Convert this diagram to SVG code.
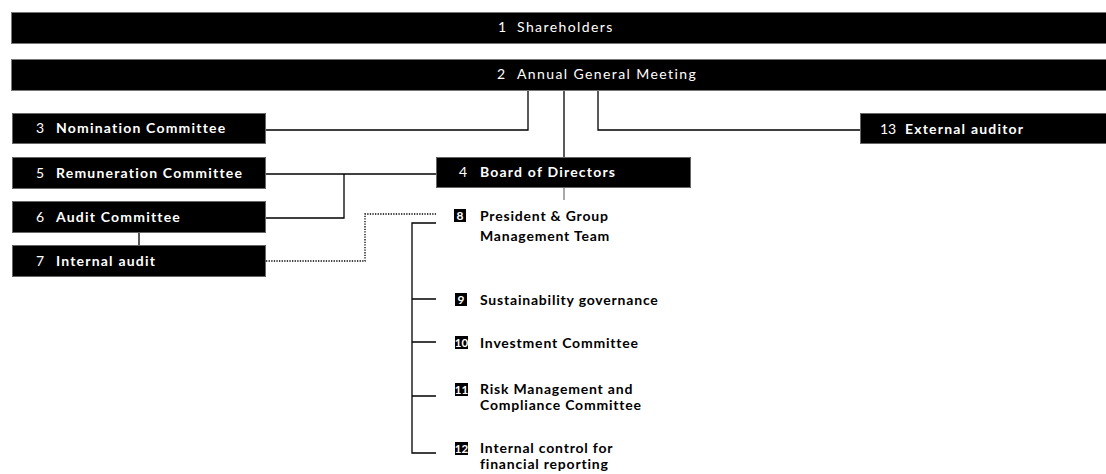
<svg xmlns="http://www.w3.org/2000/svg" width="1106" height="474" viewBox="0 0 1106 474">
<style>
.bar{fill:#000;stroke:#777;stroke-width:1}
.box{fill:#000;stroke:#666;stroke-width:1}
.tb{font-family:Lato,"Liberation Sans",sans-serif;font-size:14px;fill:#fff;letter-spacing:1.4px}
.tw{font-family:Lato,"Liberation Sans",sans-serif;font-size:14px;font-weight:700;fill:#fff;letter-spacing:1.2px}
.tn{font-family:Lato,"Liberation Sans",sans-serif;font-size:14px;fill:#fff}
.tk{font-family:Lato,"Liberation Sans",sans-serif;font-size:14px;font-weight:700;fill:#000;letter-spacing:0.8px}
.nb{fill:#000}
.nt{font-family:Lato,"Liberation Sans",sans-serif;font-size:12px;font-weight:700;fill:#fff;text-anchor:middle}
.ln{fill:none;stroke:#000;stroke-width:1.3}
.dt{fill:none;stroke:#000;stroke-width:1.3;stroke-dasharray:1.3 1.3}
</style>
<g id="connectors">
<path class="ln" d="M266 130H528V90"/>
<path class="ln" d="M564 90V158"/>
<path class="ln" d="M598 90V130H860"/>
<path class="ln" d="M266 174H436"/>
<path class="ln" d="M344 174V218H266"/>
<path class="ln" d="M139 232V246"/>
<path class="dt" d="M266 261H365V214H436"/>
<path class="ln" d="M564 188V200" style="stroke:#555;stroke-width:1"/>
<path class="ln" d="M436 223H412V453H436"/>
<path class="ln" d="M412 299H436M412 342H436M412 396H436"/>
</g>
<g id="n1">
<rect class="bar" x="11.5" y="12.5" width="1100" height="31"/>
<text class="tn" x="498" y="32">1</text>
<text class="tb" x="517" y="32">Shareholders</text>
</g>
<g id="n2">
<rect class="bar" x="11.5" y="59.5" width="1100" height="31"/>
<text class="tn" x="497" y="79">2</text>
<text class="tb" x="517" y="79">Annual General Meeting</text>
</g>
<g id="n3">
<rect class="box" x="12.5" y="113.5" width="253" height="30"/>
<text class="tn" x="36" y="133">3</text>
<text class="tw" x="56" y="133">Nomination Committee</text>
</g>
<g id="n5">
<rect class="box" x="12.5" y="157.5" width="253" height="31"/>
<text class="tn" x="36" y="178">5</text>
<text class="tw" x="56" y="178">Remuneration Committee</text>
</g>
<g id="n6">
<rect class="box" x="12.5" y="201.5" width="253" height="31"/>
<text class="tn" x="36" y="222">6</text>
<text class="tw" x="56" y="222">Audit Committee</text>
</g>
<g id="n7">
<rect class="box" x="12.5" y="245.5" width="253" height="31"/>
<text class="tn" x="36" y="266">7</text>
<text class="tw" x="56" y="266">Internal audit</text>
</g>
<g id="n4">
<rect class="box" x="436.5" y="157.5" width="254" height="30"/>
<text class="tn" x="459" y="177">4</text>
<text class="tw" x="480" y="177">Board of Directors</text>
</g>
<g id="n13">
<rect class="box" x="860.5" y="113.5" width="250" height="30"/>
<text class="tn" x="880" y="134">13</text>
<text class="tw" x="905" y="134">External auditor</text>
</g>
<g id="n8">
<rect class="nb" x="454" y="209" width="12" height="13"/>
<text class="nt" x="460" y="220">8</text>
<text class="tk" x="480" y="221">President &amp; Group</text>
<text class="tk" x="480" y="241">Management Team</text>
</g>
<g id="n9">
<rect class="nb" x="455" y="293" width="12" height="13"/>
<text class="nt" x="461" y="304">9</text>
<text class="tk" x="480" y="305">Sustainability governance</text>
</g>
<g id="n10">
<rect class="nb" x="455" y="336" width="13" height="13"/>
<text class="nt" x="461.5" y="347" style="font-size:11.5px">10</text>
<text class="tk" x="480" y="348">Investment Committee</text>
</g>
<g id="n11">
<rect class="nb" x="455" y="383" width="13" height="13"/>
<text class="nt" x="461.5" y="394" style="font-size:11.5px">11</text>
<text class="tk" x="480" y="394">Risk Management and</text>
<text class="tk" x="480" y="410">Compliance Committee</text>
</g>
<g id="n12">
<rect class="nb" x="455" y="442" width="13" height="13"/>
<text class="nt" x="461.5" y="453" style="font-size:11.5px">12</text>
<text class="tk" x="480" y="453">Internal control for</text>
<text class="tk" x="480" y="469">financial reporting</text>
</g>
</svg>
